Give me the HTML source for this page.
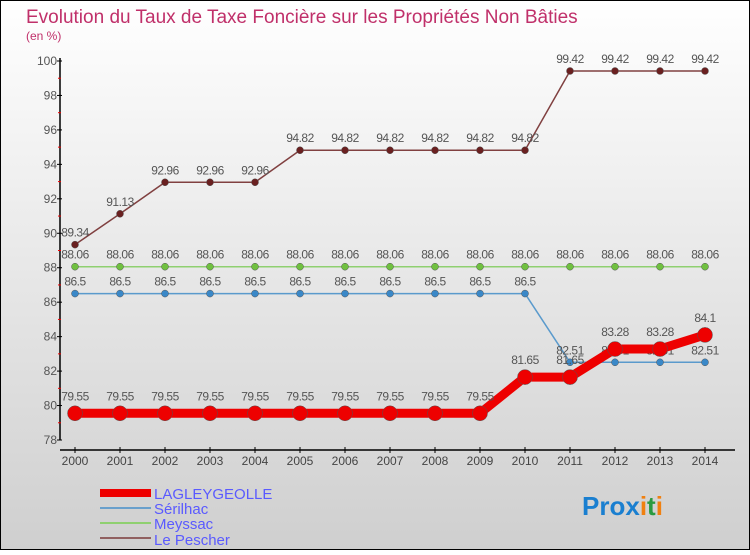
<!DOCTYPE html>
<html><head><meta charset="utf-8"><style>
html,body{margin:0;padding:0}
body{width:750px;height:550px;overflow:hidden;font-family:"Liberation Sans",sans-serif}
svg text{font-family:"Liberation Sans",sans-serif}
</style></head><body>
<svg id="chart" width="750" height="550" xmlns="http://www.w3.org/2000/svg">
<defs><linearGradient id="bg" x1="0" y1="0" x2="0" y2="1"><stop offset="0" stop-color="#ffffff"/><stop offset="1" stop-color="#cfcfcf"/></linearGradient></defs>
<rect x="0.5" y="0.5" width="749" height="549" fill="url(#bg)" stroke="#000"/>
<text x="26" y="23" font-size="19" fill="#c0306a">Evolution du Taux de Taxe Foncière sur les Propriétés Non Bâties</text>
<text x="26" y="40" font-size="12" fill="#c0306a">(en %)</text>
<g id="axes"></g>
<g id="series"></g>
<g>
<rect x="100" y="489" width="51" height="8" fill="#e00"/>
<text x="154" y="499" font-size="15" fill="#5a5aff">LAGLEYGEOLLE</text>
<rect x="100" y="507" width="51" height="2" fill="#6aa0cc"/>
<text x="154" y="514" font-size="15" fill="#5a5aff">Sérilhac</text>
<rect x="100" y="522" width="51" height="2" fill="#8fd070"/>
<text x="154" y="529" font-size="15" fill="#5a5aff">Meyssac</text>
<rect x="100" y="537" width="51" height="2" fill="#906060"/>
<text x="154" y="545" font-size="15" fill="#5a5aff">Le Pescher</text>
</g>
<text x="582" y="515" font-size="26" font-weight="bold"><tspan fill="#1a7fd0">Pro</tspan><tspan fill="#1a7fd0">x</tspan><tspan fill="#f08010">i</tspan><tspan fill="#2a9a40">t</tspan><tspan fill="#f08010">i</tspan></text>
</svg>
<script>
const years = [2000,2001,2002,2003,2004,2005,2006,2007,2008,2009,2010,2011,2012,2013,2014];
const lagleygeolle = [79.55,79.55,79.55,79.55,79.55,79.55,79.55,79.55,79.55,79.55,81.65,81.65,83.28,83.28,84.1];
const serilhac = [86.5,86.5,86.5,86.5,86.5,86.5,86.5,86.5,86.5,86.5,86.5,82.51,82.51,82.51,82.51];
const meyssac = [88.06,88.06,88.06,88.06,88.06,88.06,88.06,88.06,88.06,88.06,88.06,88.06,88.06,88.06,88.06];
const lePescher = [89.34,91.13,92.96,92.96,92.96,94.82,94.82,94.82,94.82,94.82,94.82,99.42,99.42,99.42,99.42];
const yTicks = [78,80,82,84,86,88,90,92,94,96,98,100];
const NS = "http://www.w3.org/2000/svg";
const x = i => 75 + i * (705 - 75) / (years.length - 1);
const y = v => 440 - (v - 78) * (440 - 61) / 22;
function mk(tag, attrs, parent){const e=document.createElementNS(NS,tag);for(const k in attrs)e.setAttribute(k,attrs[k]);parent.appendChild(e);return e;}
const axes = document.getElementById('axes');
let yl = mk('line',{x1:60,y1:58,x2:60,y2:440,stroke:'#000','stroke-width':1.5},axes);


yTicks.forEach((t,k)=>{
  const tk = mk('line',{x1:57,y1:y(t),x2:62,y2:y(t),stroke:'#000'},axes);
  
  
  const tx = mk('text',{x:57,y:y(t)+4,'font-size':12,fill:'#555','text-anchor':'end'},axes);
  tx.textContent = t;
  
  
  if(k<yTicks.length-1){
    const m = mk('line',{x1:58,y1:y(t+1),x2:61,y2:y(t+1),stroke:'#e00'},axes);
    
    
  }
});
let xl = mk('line',{x1:60,y1:450,x2:735,y2:450,stroke:'#000','stroke-width':1.5},axes);


years.forEach((yr,i)=>{
  const tk = mk('line',{x1:x(i),y1:447,x2:x(i),y2:453,stroke:'#000'},axes);
  
  
  const tx = mk('text',{x:x(i),y:465,'font-size':12,fill:'#444','text-anchor':'middle'},axes);
  tx.textContent = yr;
  
  
});
const sg = document.getElementById('series');
function series(name, vals, color, w, r, dotColor){
  const g = mk('g',{},sg);
  
  
  const p = mk('polyline',{points:vals.map((v,i)=>x(i)+','+y(v)).join(' '),fill:'none',stroke:color,'stroke-width':w,'stroke-linejoin':'round'},g);
  
  
  vals.forEach((v,i)=>{
    const c = mk('circle',{cx:x(i),cy:y(v),r:r,fill:dotColor,stroke:'#555','stroke-width':0.5},g);
    
    
    const t = mk('text',{x:x(i),y:y(v)-8-(r>5?5:0),'font-size':12,fill:'#555','text-anchor':'middle','letter-spacing':'-0.5'},g);
    t.textContent = v;
    
    
  });
}
series('le-pescher', lePescher, '#804040', 1.5, 3.5, '#6a2020');
series('meyssac', meyssac, '#8fd070', 1.5, 3.5, '#70c040');
series('serilhac', serilhac, '#5a9acc', 1.5, 3.5, '#3a88c8');
series('lagleygeolle', lagleygeolle, '#ee0000', 9, 7.5, '#ee0000');
</script>
</body></html>
